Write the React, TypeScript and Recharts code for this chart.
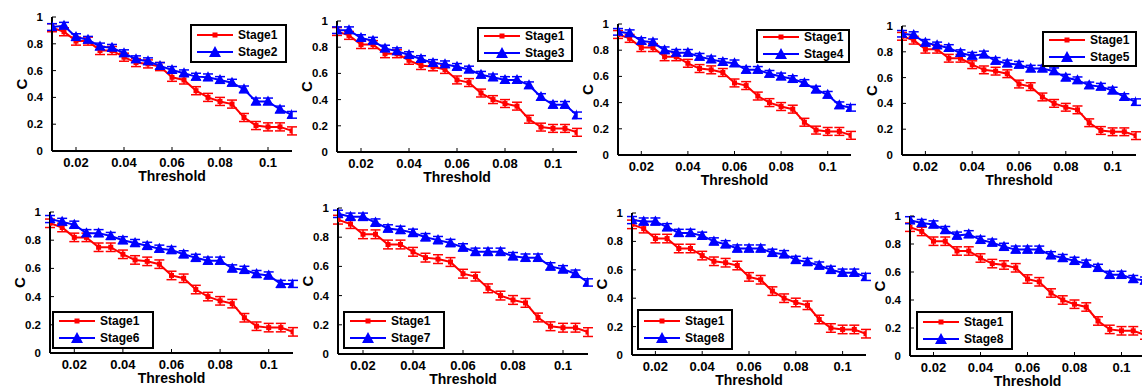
import {
  LineChart,
  Line,
  XAxis,
  YAxis,
  ErrorBar,
  Label,
} from "recharts";

const thresholds = [
  0.01, 0.015, 0.02, 0.025, 0.03, 0.035, 0.04, 0.045, 0.05, 0.055, 0.06,
  0.065, 0.07, 0.075, 0.08, 0.085, 0.09, 0.095, 0.1, 0.105, 0.11,
];

const stage1 = [
  0.92, 0.89, 0.82, 0.82, 0.75, 0.75, 0.7, 0.66, 0.65, 0.63, 0.55, 0.53,
  0.45, 0.4, 0.37, 0.35, 0.25, 0.19, 0.18, 0.18, 0.15,
];
const stage2 = [
  0.925, 0.935, 0.85, 0.83, 0.78, 0.77, 0.73, 0.685, 0.67, 0.635, 0.605, 0.58,
  0.555, 0.55, 0.53, 0.51, 0.46, 0.37, 0.37, 0.31, 0.27,
];
const stage3 = [
  0.93, 0.93, 0.87, 0.85, 0.79, 0.77, 0.74, 0.71, 0.68, 0.67, 0.65, 0.63,
  0.59, 0.57, 0.55, 0.55, 0.51, 0.42, 0.36, 0.36, 0.28,
];
const stage4 = [
  0.94, 0.93, 0.87, 0.86, 0.8, 0.78, 0.78, 0.75, 0.73, 0.71, 0.7, 0.65, 0.65,
  0.62, 0.6, 0.58, 0.55, 0.5, 0.46, 0.38, 0.36,
];
const stage5 = [
  0.94, 0.93, 0.87, 0.85, 0.83, 0.79, 0.77, 0.78, 0.73, 0.71, 0.7, 0.67, 0.67,
  0.65, 0.6, 0.58, 0.54, 0.53, 0.5, 0.45, 0.41,
];
const stage6 = [
  0.95, 0.93, 0.91, 0.85, 0.85, 0.83, 0.8, 0.78, 0.76, 0.74, 0.73, 0.7, 0.675,
  0.655, 0.655, 0.6, 0.59, 0.56, 0.55, 0.49, 0.49,
];
const stage7 = [
  0.96, 0.94, 0.94, 0.9, 0.86, 0.85, 0.83, 0.8, 0.78, 0.76, 0.73, 0.7, 0.7,
  0.7, 0.67, 0.66, 0.66, 0.6, 0.58, 0.55, 0.49,
];
const stage8a = [
  0.95, 0.94, 0.94, 0.9, 0.86, 0.86, 0.84, 0.8, 0.78, 0.75, 0.75, 0.75, 0.72,
  0.71, 0.67, 0.655, 0.63, 0.6, 0.58, 0.58, 0.55,
];
const stage8b = [
  0.97, 0.95, 0.94, 0.9, 0.86, 0.87, 0.83, 0.81, 0.78, 0.76, 0.76, 0.76, 0.72,
  0.7, 0.68, 0.66, 0.63, 0.58, 0.58, 0.55, 0.54,
];

const stage1Err = [
  0.03, 0.03, 0.03, 0.03, 0.03, 0.03, 0.03, 0.03, 0.03, 0.03, 0.03, 0.03,
  0.03, 0.03, 0.03, 0.03, 0.03, 0.03, 0.03, 0.03, 0.03,
];
const stageNErr = [
  0.025, 0.025, 0.025, 0.025, 0.025, 0.025, 0.025, 0.025, 0.025, 0.025, 0.025,
  0.025, 0.025, 0.025, 0.025, 0.025, 0.025, 0.025, 0.025, 0.025, 0.025,
];

const xTicks = [0.02, 0.04, 0.06, 0.08, 0.1];
const yTicks = [0, 0.2, 0.4, 0.6, 0.8, 1];

const RED = "#ff0000";
const BLUE = "#0000ff";
const FONT = "'Liberation Sans', Arial, sans-serif";

// plot rect (l, t, w, h) and legend box for each panel
const panels = [
  { name: "Stage2", values: stage2, l: 52, t: 17, w: 240, h: 134, lg: [190, 24, 97, 39] },
  { name: "Stage3", values: stage3, l: 337, t: 21, w: 240, h: 131, lg: [477, 27, 96, 35] },
  { name: "Stage4", values: stage4, l: 618, t: 24, w: 233, h: 131, lg: [756, 29, 94, 34] },
  { name: "Stage5", values: stage5, l: 902, t: 26, w: 234, h: 129, lg: [1042, 31, 95, 36] },
  { name: "Stage6", values: stage6, l: 50, t: 212, w: 243, h: 141, lg: [52, 311, 102, 38] },
  { name: "Stage7", values: stage7, l: 338, t: 208, w: 250, h: 146, lg: [343, 311, 102, 38] },
  { name: "Stage8", values: stage8a, l: 632, t: 213, w: 234, h: 142, lg: [637, 309, 96, 41] },
  { name: "Stage8", values: stage8b, l: 910, t: 216, w: 235, h: 140, lg: [916, 311, 97, 39] },
];

const Square = (props: any) => {
  const { cx, cy, index } = props;
  if (cx == null || cy == null) return <g key={index} />;
  return (
    <rect key={index} x={cx - 2.5} y={cy - 2.5} width={5} height={5} fill={RED} />
  );
};

const Triangle = (props: any) => {
  const { cx, cy, index } = props;
  if (cx == null || cy == null) return <g key={index} />;
  return (
    <path
      key={index}
      d={`M${cx},${cy - 6} L${cx + 5.5},${cy + 4} L${cx - 5.5},${cy + 4} Z`}
      fill={BLUE}
    />
  );
};

const LegendBox = ({ name, box }: { name: string; box: number[] }) => {
  const [x, y, w, h] = box;
  const row = (label: string, color: string, tri: boolean, top: number) => (
    <div
      style={{
        position: "absolute",
        left: 5,
        top,
        display: "flex",
        alignItems: "center",
        gap: 5,
      }}
    >
      <svg width={36} height={12}>
        <line x1={0} y1={6} x2={36} y2={6} stroke={color} strokeWidth={2} />
        {tri ? (
          <path d="M18,0 L24,11 L12,11 Z" fill={color} />
        ) : (
          <rect x={15.5} y={3.5} width={5} height={5} fill={color} />
        )}
      </svg>
      <span style={{ fontFamily: FONT, fontWeight: 700, fontSize: 12 }}>{label}</span>
    </div>
  );
  return (
    <div
      style={{
        position: "absolute",
        left: x,
        top: y,
        width: w - 4,
        height: h - 4,
        border: "2px solid #000",
        background: "#fff",
      }}
    >
      {row("Stage1", RED, false, h / 2 - 18)}
      {row(name, BLUE, true, h / 2 - 1)}
    </div>
  );
};

const xTickStyle = { fill: "#000", fontSize: 13, fontWeight: 700, fontFamily: FONT };
const yTickStyle = { fill: "#000", fontSize: 11.5, fontWeight: 700, fontFamily: FONT };

const Panel = ({ p }: { p: any }) => {
  const data = thresholds.map((x, i) => ({
    x,
    s1: stage1[i],
    e1: stage1Err[i],
    sn: p.values[i],
    en: stageNErr[i],
  }));
  const padL = 45;
  const padT = 10;
  const padR = 10;
  const padB = 36;
  return (
    <div style={{ position: "absolute", left: p.l - padL, top: p.t - padT }}>
      <LineChart
        width={p.w + padL + padR}
        height={p.h + padT + padB}
        data={data}
        margin={{ top: padT, right: padR, left: 9, bottom: 0 }}
      >
        <XAxis
          dataKey="x"
          type="number"
          domain={[0.01, 0.11]}
          ticks={xTicks}
          allowDataOverflow
          height={padB}
          axisLine={{ stroke: "#000", strokeWidth: 2 }}
          tickLine={{ stroke: "#000" }}
          tickSize={-4}
          tickMargin={11}
          tick={xTickStyle}
          tickFormatter={(v) => String(v)}
        >
          <Label
            value="Threshold"
            position="insideBottom"
            offset={6}
            style={{ fill: "#000", fontSize: 14, fontWeight: 700, fontFamily: FONT }}
          />
        </XAxis>
        <XAxis
          xAxisId="top"
          orientation="top"
          dataKey="x"
          type="number"
          domain={[0.01, 0.11]}
          ticks={xTicks}
          allowDataOverflow
          height={0}
          axisLine={{ stroke: "#000", strokeWidth: 2 }}
          tickLine={{ stroke: "#000" }}
          tickSize={-4}
          tick={false}
        />
        <YAxis
          type="number"
          domain={[0, 1]}
          ticks={yTicks}
          allowDataOverflow
          width={36}
          axisLine={{ stroke: "#000", strokeWidth: 2 }}
          tickLine={{ stroke: "#000" }}
          tickSize={-4}
          tickMargin={13}
          tick={yTickStyle}
          tickFormatter={(v) => String(v)}
        >
          <Label
            value="C"
            angle={-90}
            position="insideLeft"
            offset={6}
            style={{
              textAnchor: "middle",
              fill: "#000",
              fontSize: 15,
              fontWeight: 700,
              fontFamily: FONT,
            }}
          />
        </YAxis>
        <YAxis
          yAxisId="right"
          orientation="right"
          type="number"
          domain={[0, 1]}
          ticks={yTicks}
          allowDataOverflow
          width={0}
          axisLine={{ stroke: "#000", strokeWidth: 2 }}
          tickLine={{ stroke: "#000" }}
          tickSize={-4}
          tick={false}
        />
        <Line
          dataKey="s1"
          stroke={RED}
          strokeWidth={2}
          dot={Square}
          isAnimationActive={false}
        >
          <ErrorBar dataKey="e1" direction="y" width={5} stroke={RED} strokeWidth={1.5} />
        </Line>
        <Line
          dataKey="sn"
          stroke={BLUE}
          strokeWidth={2}
          dot={Triangle}
          isAnimationActive={false}
        >
          <ErrorBar dataKey="en" direction="y" width={5} stroke={BLUE} strokeWidth={1.5} />
        </Line>
      </LineChart>
      <div style={{ position: "absolute", left: -(p.l - padL), top: -(p.t - padT) }}>
        <LegendBox name={p.name} box={p.lg} />
      </div>
    </div>
  );
}

export default function App() {
  return (
    <div
      style={{
        position: "absolute",
        left: 0,
        top: 0,
        width: 1142,
        height: 388,
        overflow: "hidden",
        background: "#fff",
      }}
    >
      {panels.map((p, i) => (
        <Panel key={i} p={p} />
      ))}
    </div>
  );
}
